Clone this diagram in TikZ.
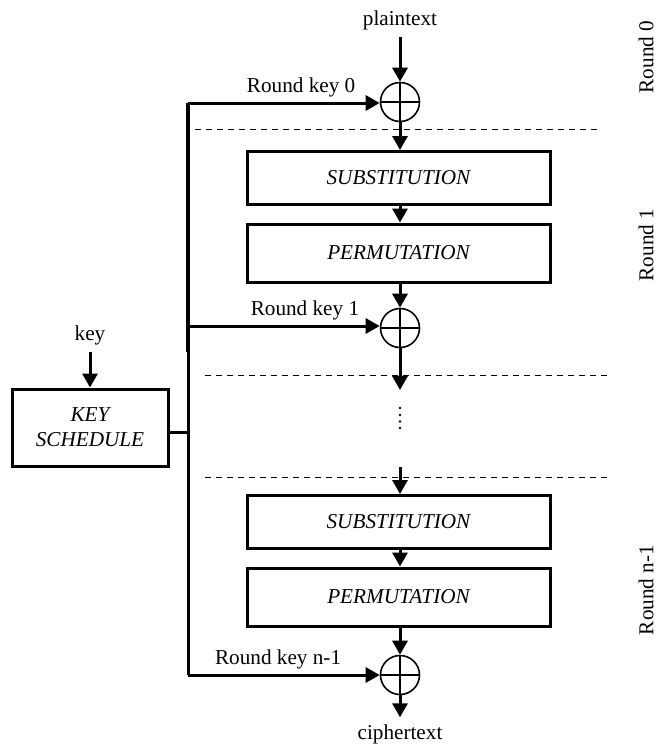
\documentclass[tikz,border=0pt]{standalone}
\usepackage{fontspec}
\setmainfont{Liberation Serif}
\usetikzlibrary{arrows.meta}
\begin{document}
\begin{tikzpicture}[x=0.5pt,y=-0.5pt,
  font=\fontsize{10.6pt}{12.5pt}\selectfont,
  >={Triangle[length=7pt,width=7.5pt]},
  flow/.style={line width=1.5pt,->},
  bus/.style={line width=1.5pt},
  stage/.style={draw,line width=1.5pt,minimum width=151.5pt,minimum height=27pt,inner sep=0pt,font=\fontsize{10.6pt}{12.5pt}\selectfont\itshape},
  xorop/.style={draw,circle,line width=0.8pt,minimum size=19.5pt,inner sep=0pt,
    path picture={\draw[line width=0.8pt] (path picture bounding box.north) -- (path picture bounding box.south)
                   (path picture bounding box.west) -- (path picture bounding box.east);}},
  sep/.style={dashed,line width=0.5pt,dash pattern=on 3pt off 2.5pt},
  skipdot/.style={circle,fill,inner sep=0pt,minimum size=1.4pt},
  roundlbl/.style={rotate=90}]
\useasboundingbox (0,0) rectangle (658,744);

% data path
\node (pt) at (400,20) {plaintext};
\node[xorop] (x0) at (400,102) {};
\node[stage,minimum height=26.5pt] (s1) at (398.5,178) {SUBSTITUTION};
\node[stage,minimum height=29pt] (p1) at (398.5,253) {PERMUTATION};
\node[xorop] (x1) at (400,328) {};
\coordinate (e1) at (400,390);
% skipped rounds
\node[skipdot] (d1) at (400,408) {};
\node[skipdot] (d2) at (400,415) {};
\node[skipdot] (d3) at (400,421.5) {};
\node[skipdot] (d4) at (400,428) {};
\coordinate (e2) at (400,467);
\node[stage,minimum height=26.5pt] (s2) at (398.5,522) {SUBSTITUTION};
\node[stage,minimum height=29pt] (p2) at (398.5,597) {PERMUTATION};
\node[xorop] (x2) at (400,675) {};
\node (ct) at (400,734) {ciphertext};

\draw[flow] (pt.south) -- (x0.north);
\draw[flow] (x0.south) -- (s1.north -| x0);
\draw[flow] (s1.south -| x0) -- (p1.north -| x0);
\draw[flow] (p1.south -| x0) -- (x1.north);
\draw[flow] (x1.south) -- (e1);
\draw[flow] (e2) -- (s2.north -| x2);
\draw[flow] (s2.south -| x2) -- (p2.north -| x2);
\draw[flow] (p2.south -| x2) -- (x2.north);
\draw[flow] (x2.south) -- (ct.north);

% key schedule and round-key bus
\node (key) at (90,335) {key};
\node[stage,minimum width=78pt,minimum height=38.5pt,align=center] (ks) at (90,427.5) {KEY\\SCHEDULE};
\draw[flow] (key.south) -- (ks.north);

\coordinate (b0) at (188,103);
\coordinate (b1) at (188,326);
\coordinate (bk) at (188,432);
\coordinate (b2) at (188,675);
\draw[bus] (ks.east |- bk) -- (bk);
\draw[line width=2pt] (b0) -- (188,352);
\draw[bus] (188,352) -- (b2);
\draw[flow] (b0) -- (x0.west |- b0) node[pos=0.59,above=-1pt] {Round key 0};
\draw[flow] (b1) -- (x1.west |- b1) node[pos=0.61,above=-1pt] {Round key 1};
\draw[flow] (b2) -- (x2.west) node[pos=0.47,above=-1pt] {Round key n-1};

% round separators
\draw[sep] (195,129) -- (600,129);
\draw[sep] (205,375) -- (610,375);
\draw[sep] (205,477) -- (610,477);

% round labels
\node[roundlbl] (r0) at (646,57) {Round 0};
\node[roundlbl] (r1) at (646,245) {Round 1};
\node[roundlbl] (r2) at (646,590) {Round n-1};
\end{tikzpicture}
\end{document}
